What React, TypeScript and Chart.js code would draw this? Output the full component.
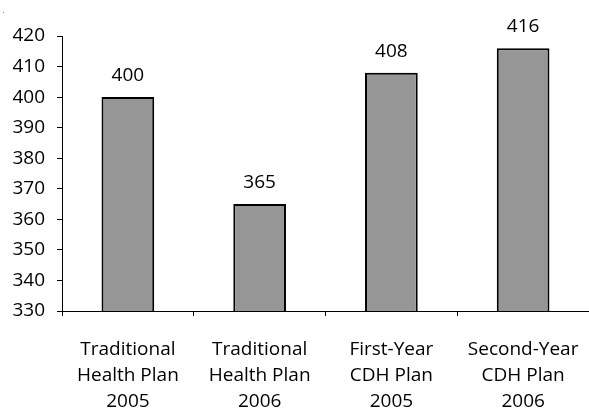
import React, { useEffect, useRef } from "react";
import { Chart, registerables } from "chart.js";

Chart.register(...registerables);

const categories: string[][] = [
  ["Traditional", "Health Plan", "2005"],
  ["Traditional", "Health Plan", "2006"],
  ["First-Year", "CDH Plan", "2005"],
  ["Second-Year", "CDH Plan", "2006"],
];
const values: number[] = [400, 365, 408, 416];
const yMin = 330;
const yMax = 420;
const yStep = 10;

const FONT = "'Open Sans', sans-serif";

const valueLabels = {
  id: "valueLabels",
  afterDatasetsDraw(chart: any) {
    const ctx = chart.ctx;
    const meta = chart.getDatasetMeta(0);
    ctx.save();
    ctx.font = `19px ${FONT}`;
    ctx.fillStyle = "#000";
    ctx.textAlign = "center";
    ctx.textBaseline = "bottom";
    meta.data.forEach((bar: any, i: number) => {
      ctx.fillText(String(values[i]), bar.x, bar.y - 12);
    });
    ctx.restore();
  },
};

export default function App() {
  const ref = useRef<HTMLCanvasElement | null>(null);
  useEffect(() => {
    document.body.style.margin = "0";
    const chart = new Chart(ref.current as HTMLCanvasElement, {
      type: "bar",
      data: {
        labels: categories,
        datasets: [
          {
            data: values,
            backgroundColor: "#969696",
            borderColor: "#000",
            borderWidth: 2,
            barPercentage: 0.4,
            categoryPercentage: 1,
          },
        ],
      },
      options: {
        animation: false,
        responsive: false,
        layout: { padding: { left: 0, right: 0, top: 36, bottom: 0 } },
        plugins: { legend: { display: false }, tooltip: { enabled: false } },
        scales: {
          x: {
            grid: {
              drawOnChartArea: false,
              tickLength: 5,
              color: "#000",
              offset: true,
            },
            border: { display: true, color: "#000", width: 1 },
            ticks: {
              color: "#000",
              font: { family: FONT, size: 19, lineHeight: 1.37 },
              padding: 21,
              maxRotation: 0,
              autoSkip: false,
            },
            afterFit(scale: any) {
              scale.height = 413 - 311;
              scale.paddingLeft = 0;
              scale.paddingRight = 0;
            },
          },
          y: {
            min: yMin,
            max: yMax,
            grid: { drawOnChartArea: false, tickLength: 5, color: "#000" },
            border: { display: true, color: "#000", width: 1 },
            ticks: {
              stepSize: yStep,
              color: "#000",
              font: { family: FONT, size: 19 },
              padding: 12,
            },
            afterFit(scale: any) {
              scale.width = 62;
            },
          },
        },
      },
      plugins: [valueLabels],
    });
    return () => chart.destroy();
  }, []);
  return (
    <div style={{ position: "relative", width: 589, height: 413 }}>
      <div
        style={{
          position: "absolute",
          left: 3,
          top: 12,
          width: 1,
          height: 1,
          background: "#888",
        }}
      />
      <canvas ref={ref} width={589} height={413} />
    </div>
  );
}
